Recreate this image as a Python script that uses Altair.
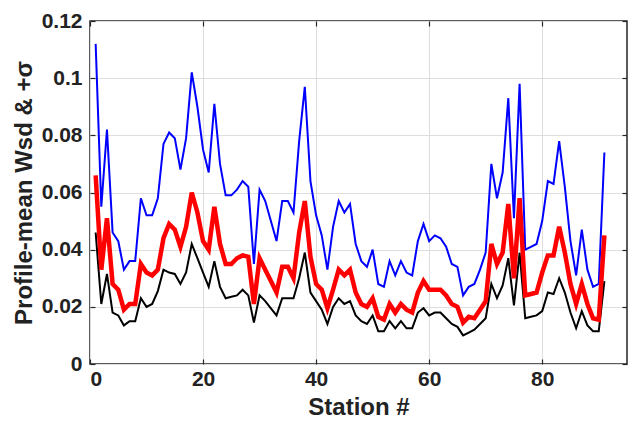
import altair as alt
import pandas as pd

stations = list(range(1, 92))

upper_sigma = [0.112, 0.055, 0.082, 0.046, 0.043, 0.033, 0.036, 0.036, 0.058, 0.052,
               0.052, 0.058, 0.077, 0.081, 0.079, 0.068, 0.079, 0.102, 0.090, 0.075,
               0.067, 0.091, 0.070, 0.059, 0.059, 0.061, 0.064, 0.062, 0.035, 0.061,
               0.057, 0.050, 0.043, 0.057, 0.057, 0.053, 0.078, 0.097, 0.064, 0.052,
               0.045, 0.033, 0.048, 0.057, 0.053, 0.056, 0.042, 0.036, 0.034, 0.040,
               0.028, 0.027, 0.036, 0.031, 0.036, 0.032, 0.031, 0.043, 0.049, 0.043,
               0.045, 0.044, 0.041, 0.035, 0.034, 0.024, 0.027, 0.028, 0.033, 0.039,
               0.070, 0.058, 0.067, 0.093, 0.051, 0.098, 0.040, 0.041, 0.042, 0.050,
               0.064, 0.063, 0.078, 0.062, 0.043, 0.031, 0.047, 0.033, 0.027, 0.028,
               0.074]

mid_line = [0.066, 0.033, 0.051, 0.028, 0.026, 0.019, 0.021, 0.021, 0.035, 0.032,
            0.031, 0.033, 0.044, 0.049, 0.047, 0.041, 0.048, 0.060, 0.053, 0.043,
            0.040, 0.055, 0.042, 0.035, 0.035, 0.037, 0.038, 0.0375, 0.021, 0.037,
            0.033, 0.029, 0.025, 0.034, 0.034, 0.030, 0.046, 0.057, 0.0375, 0.028,
            0.026, 0.0195, 0.026, 0.033, 0.031, 0.033, 0.025, 0.021, 0.020, 0.023,
            0.0165, 0.0155, 0.021, 0.018, 0.021, 0.019, 0.018, 0.025, 0.029, 0.026,
            0.026, 0.026, 0.024, 0.021, 0.020, 0.0145, 0.0165, 0.016, 0.019, 0.022,
            0.042, 0.035, 0.039, 0.056, 0.030, 0.058, 0.024, 0.0245, 0.025, 0.032,
            0.038, 0.038, 0.048, 0.039, 0.028, 0.021, 0.028, 0.021, 0.016, 0.0155,
            0.045]

profile_mean = [0.046, 0.021, 0.0315, 0.018, 0.017, 0.0135, 0.015, 0.015, 0.023, 0.020,
                0.021, 0.0255, 0.033, 0.032, 0.0315, 0.028, 0.032, 0.042, 0.037, 0.032,
                0.027, 0.036, 0.027, 0.023, 0.0235, 0.024, 0.026, 0.024, 0.0145, 0.024,
                0.022, 0.0195, 0.017, 0.023, 0.023, 0.023, 0.030, 0.039, 0.025, 0.022,
                0.019, 0.014, 0.020, 0.023, 0.021, 0.022, 0.017, 0.015, 0.014, 0.017,
                0.0115, 0.0115, 0.015, 0.0125, 0.015, 0.0125, 0.0125, 0.018, 0.0195, 0.017,
                0.018, 0.018, 0.016, 0.014, 0.013, 0.010, 0.011, 0.012, 0.014, 0.016,
                0.028, 0.023, 0.0275, 0.037, 0.0205, 0.039, 0.016, 0.0165, 0.017, 0.0185,
                0.025, 0.0245, 0.030, 0.025, 0.018, 0.0125, 0.0185, 0.0135, 0.0115, 0.0115,
                0.029]

x_ticks = [0, 20, 40, 60, 80]
y_ticks = [0, 0.02, 0.04, 0.06, 0.08, 0.1, 0.12]

df = pd.DataFrame({"station": stations, "upper": upper_sigma,
                   "mid": mid_line, "mean": profile_mean})

FONT = "Liberation Sans"
GRID = "#dedede"
AX = "#262626"

xscale = alt.Scale(domain=[0, 95], nice=False, zero=False)
yscale = alt.Scale(domain=[0, 0.12], nice=False)

x_main = alt.X("station:Q", scale=xscale, title="Station #",
               axis=alt.Axis(orient="bottom", values=x_ticks, grid=True, gridColor=GRID,
                             gridWidth=1, domain=False, ticks=True, tickSize=5,
                             tickColor=AX, tickWidth=1.2, offset=-5, labelPadding=4,
                             labelFont=FONT, labelFontSize=21, labelFontWeight="bold",
                             labelColor="#222222", titleFont=FONT, titleFontSize=24,
                             titleFontWeight="bold", titleColor="#222222", titlePadding=6))
y_main = alt.Y("upper:Q", scale=yscale, title="Profile-mean Wsd & +σ",
               axis=alt.Axis(orient="left", values=y_ticks, grid=True, gridColor=GRID,
                             gridWidth=1, domain=False, ticks=True, tickSize=5,
                             tickColor=AX, tickWidth=1.2, offset=-5, labelPadding=8,
                             format=".2~f", labelFont=FONT, labelFontSize=21,
                             labelFontWeight="bold", labelColor="#222222",
                             titleFont=FONT, titleFontSize=24, titleFontWeight="bold",
                             titleColor="#222222", titlePadding=5))

blue = alt.Chart(df).mark_line(color="#0000ff", strokeWidth=2).encode(x=x_main, y=y_main)

frame = alt.Chart(df).mark_line(opacity=0).encode(
    x=alt.X("station:Q", scale=xscale, title=None,
            axis=alt.Axis(orient="top", values=x_ticks, grid=False, domain=False,
                          labels=False, ticks=True, tickSize=5, tickColor=AX,
                          tickWidth=1.2, offset=-5)),
    y=alt.Y("mean:Q", scale=yscale, title=None,
            axis=alt.Axis(orient="right", values=y_ticks, grid=False, domain=False,
                          labels=False, ticks=True, tickSize=5, tickColor=AX,
                          tickWidth=1.2, offset=-5)))

black = alt.Chart(df).mark_line(color="#000000", strokeWidth=2).encode(
    x=alt.X("station:Q", scale=xscale, axis=None),
    y=alt.Y("mean:Q", scale=yscale, axis=None))

red = alt.Chart(df).mark_line(color="#ff0000", strokeWidth=4.5).encode(
    x=alt.X("station:Q", scale=xscale, axis=None),
    y=alt.Y("mid:Q", scale=yscale, axis=None))

chart = alt.layer(blue, frame, black, red).resolve_axis(
    x="independent", y="independent"
).properties(
    width=537, height=343,
    autosize=alt.AutoSizeParams(type="none"),
    padding={"left": 90, "top": 21, "right": 1, "bottom": 59},
    background="white",
).configure_view(stroke=AX, strokeWidth=1.5)

chart.save("out.html", embed_options={"renderer": "svg", "actions": False})
